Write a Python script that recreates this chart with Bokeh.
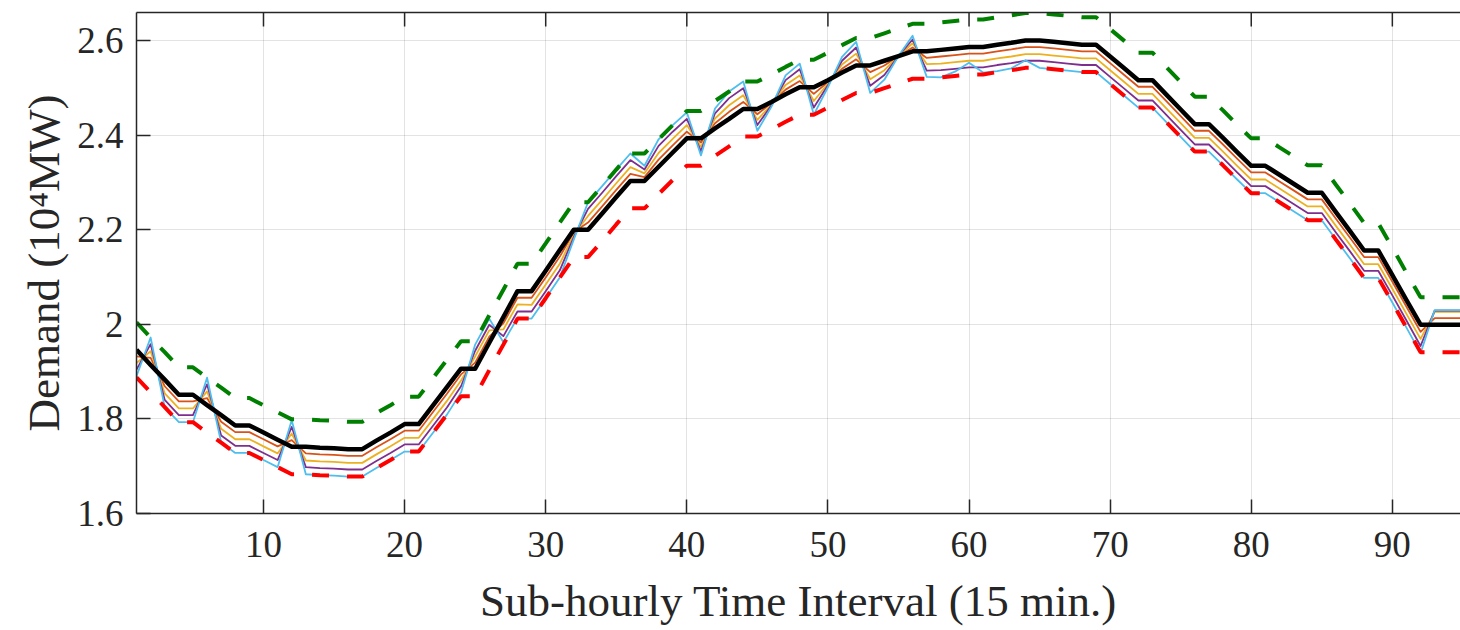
import math
from bokeh.plotting import figure
from bokeh.models import LinearAxis, FixedTicker, CustomJSTickFormatter, Range1d
from bokeh.embed import file_html
from bokeh.resources import INLINE

# ---------------- data ----------------
x = list(range(1, 96))

x_ticks = [10, 20, 30, 40, 50, 60, 70, 80, 90]
y_ticks = [1.6, 1.8, 2.0, 2.2, 2.4, 2.6]
x_lim = (1, 94.83)
y_lim = (1.6, 2.659)

# hourly demand profile (thick black)
demand = [1.946, 1.914, 1.883, 1.851, 1.851, 1.829, 1.808, 1.786, 1.786, 1.771,
          1.756, 1.741, 1.741, 1.739, 1.738, 1.736, 1.736, 1.754, 1.771, 1.789,
          1.789, 1.828, 1.867, 1.906, 1.906, 1.961, 2.015, 2.070, 2.070, 2.113,
          2.157, 2.200, 2.200, 2.234, 2.269, 2.303, 2.303, 2.333, 2.363, 2.393,
          2.393, 2.414, 2.434, 2.455, 2.455, 2.470, 2.486, 2.501, 2.501, 2.516,
          2.532, 2.547, 2.547, 2.557, 2.567, 2.577, 2.577, 2.580, 2.583, 2.586,
          2.586, 2.591, 2.595, 2.600, 2.600, 2.597, 2.594, 2.591, 2.591, 2.566,
          2.541, 2.516, 2.516, 2.485, 2.454, 2.423, 2.423, 2.394, 2.364, 2.335,
          2.335, 2.316, 2.297, 2.278, 2.278, 2.237, 2.197, 2.156, 2.156, 2.104,
          2.051, 1.999, 1.999, 1.999, 1.999]

# upper bound (green dashed)
upper = [2.004, 1.972, 1.941, 1.909, 1.909, 1.887, 1.866, 1.844, 1.844, 1.829,
         1.814, 1.799, 1.799, 1.797, 1.796, 1.794, 1.794, 1.812, 1.829, 1.847,
         1.847, 1.886, 1.925, 1.964, 1.964, 2.019, 2.073, 2.128, 2.128, 2.171,
         2.215, 2.258, 2.258, 2.292, 2.327, 2.361, 2.361, 2.391, 2.421, 2.451,
         2.451, 2.472, 2.492, 2.513, 2.513, 2.528, 2.544, 2.559, 2.559, 2.574,
         2.590, 2.605, 2.605, 2.615, 2.625, 2.635, 2.635, 2.638, 2.641, 2.644,
         2.644, 2.649, 2.653, 2.658, 2.658, 2.655, 2.652, 2.649, 2.649, 2.624,
         2.599, 2.574, 2.574, 2.543, 2.512, 2.481, 2.481, 2.452, 2.422, 2.393,
         2.393, 2.374, 2.355, 2.336, 2.336, 2.295, 2.255, 2.214, 2.214, 2.162,
         2.109, 2.057, 2.057, 2.057, 2.057]

# lower bound (red dashed)
lower = [1.888, 1.856, 1.825, 1.793, 1.793, 1.771, 1.750, 1.728, 1.728, 1.713,
         1.698, 1.683, 1.683, 1.681, 1.680, 1.678, 1.678, 1.696, 1.713, 1.731,
         1.731, 1.770, 1.809, 1.848, 1.848, 1.903, 1.957, 2.012, 2.012, 2.055,
         2.099, 2.142, 2.142, 2.176, 2.211, 2.245, 2.245, 2.275, 2.305, 2.335,
         2.335, 2.356, 2.376, 2.397, 2.397, 2.412, 2.428, 2.443, 2.443, 2.458,
         2.474, 2.489, 2.489, 2.499, 2.509, 2.519, 2.519, 2.522, 2.525, 2.528,
         2.528, 2.533, 2.537, 2.542, 2.542, 2.539, 2.536, 2.533, 2.533, 2.508,
         2.483, 2.458, 2.458, 2.427, 2.396, 2.365, 2.365, 2.336, 2.306, 2.277,
         2.277, 2.258, 2.239, 2.220, 2.220, 2.179, 2.139, 2.098, 2.098, 2.046,
         1.993, 1.941, 1.941, 1.941, 1.941]

# sub-hourly scenarios (thin lines)
scen_orange = [1.932, 1.929, 1.869, 1.837, 1.837, 1.844, 1.794, 1.772, 1.772, 1.757,
               1.742, 1.755, 1.727, 1.725, 1.724, 1.722, 1.722, 1.740, 1.757, 1.775,
               1.775, 1.814, 1.853, 1.894, 1.919, 1.974, 2.002, 2.056, 2.056, 2.099,
               2.143, 2.195, 2.215, 2.249, 2.284, 2.318, 2.311, 2.348, 2.378, 2.407,
               2.384, 2.425, 2.449, 2.470, 2.444, 2.468, 2.496, 2.514, 2.487, 2.512,
               2.540, 2.560, 2.533, 2.547, 2.567, 2.585, 2.563, 2.566, 2.569, 2.572,
               2.572, 2.577, 2.581, 2.586, 2.586, 2.583, 2.580, 2.577, 2.577, 2.552,
               2.527, 2.502, 2.502, 2.471, 2.440, 2.409, 2.409, 2.380, 2.350, 2.321,
               2.321, 2.302, 2.283, 2.264, 2.264, 2.223, 2.183, 2.142, 2.142, 2.090,
               2.037, 1.984, 2.013, 2.013, 2.013]

scen_yellow = [1.918, 1.943, 1.854, 1.822, 1.822, 1.858, 1.779, 1.757, 1.757, 1.742,
               1.727, 1.769, 1.712, 1.710, 1.709, 1.707, 1.707, 1.725, 1.742, 1.760,
               1.760, 1.799, 1.838, 1.881, 1.932, 1.987, 1.989, 2.042, 2.041, 2.084,
               2.128, 2.190, 2.229, 2.263, 2.298, 2.332, 2.319, 2.362, 2.392, 2.421,
               2.375, 2.435, 2.463, 2.484, 2.432, 2.465, 2.506, 2.526, 2.472, 2.509,
               2.549, 2.572, 2.518, 2.537, 2.567, 2.594, 2.550, 2.551, 2.554, 2.557,
               2.557, 2.562, 2.566, 2.571, 2.571, 2.568, 2.565, 2.562, 2.562, 2.537,
               2.512, 2.487, 2.487, 2.456, 2.425, 2.394, 2.394, 2.365, 2.335, 2.306,
               2.306, 2.287, 2.268, 2.249, 2.249, 2.208, 2.168, 2.127, 2.127, 2.075,
               2.022, 1.969, 2.026, 2.026, 2.026]

scen_purple = [1.904, 1.958, 1.840, 1.808, 1.808, 1.873, 1.765, 1.743, 1.743, 1.728,
               1.713, 1.783, 1.698, 1.696, 1.695, 1.693, 1.693, 1.711, 1.728, 1.746,
               1.746, 1.785, 1.824, 1.869, 1.944, 1.999, 1.975, 2.027, 2.027, 2.070,
               2.114, 2.185, 2.244, 2.278, 2.313, 2.347, 2.327, 2.377, 2.407, 2.434,
               2.366, 2.446, 2.478, 2.499, 2.421, 2.463, 2.516, 2.539, 2.458, 2.505,
               2.557, 2.585, 2.504, 2.527, 2.567, 2.602, 2.536, 2.537, 2.540, 2.543,
               2.543, 2.548, 2.552, 2.557, 2.557, 2.554, 2.551, 2.548, 2.548, 2.523,
               2.498, 2.473, 2.473, 2.442, 2.411, 2.380, 2.380, 2.351, 2.321, 2.292,
               2.292, 2.273, 2.254, 2.235, 2.235, 2.194, 2.154, 2.113, 2.113, 2.061,
               2.008, 1.954, 2.029, 2.029, 2.029]

scen_cyan = [1.890, 1.972, 1.825, 1.793, 1.793, 1.887, 1.750, 1.728, 1.728, 1.713,
             1.698, 1.797, 1.683, 1.681, 1.680, 1.678, 1.678, 1.696, 1.713, 1.731,
             1.731, 1.770, 1.809, 1.856, 1.957, 2.012, 1.962, 2.013, 2.012, 2.055,
             2.099, 2.180, 2.258, 2.292, 2.327, 2.361, 2.335, 2.391, 2.421, 2.448,
             2.357, 2.456, 2.492, 2.513, 2.409, 2.460, 2.526, 2.551, 2.443, 2.501,
             2.565, 2.597, 2.489, 2.517, 2.567, 2.610, 2.523, 2.522, 2.534, 2.553,
             2.532, 2.535, 2.541, 2.558, 2.542, 2.539, 2.536, 2.533, 2.533, 2.508,
             2.483, 2.458, 2.458, 2.427, 2.396, 2.365, 2.365, 2.336, 2.306, 2.277,
             2.277, 2.258, 2.239, 2.220, 2.220, 2.179, 2.139, 2.098, 2.098, 2.046,
             1.993, 1.939, 2.030, 2.030, 2.030]

# ---------------- styling ----------------
FONT = "Liberation Serif"
AX = "#262626"
TICK_FS = "37px"
LABEL_FS = "45px"

p = figure(width=1460, height=628, output_backend="svg", toolbar_location=None,
           x_range=Range1d(*x_lim), y_range=Range1d(*y_lim),
           min_border_left=136, min_border_right=0, min_border_top=12,
           min_border_bottom=111,
           x_axis_label="Sub-hourly Time Interval (15 min.)",
           y_axis_label="Demand (10\u2074MW)")
p.outline_line_color = None
p.background_fill_color = "white"
p.border_fill_color = "white"

# grid
for g in (p.xgrid, p.ygrid):
    g.grid_line_color = AX
    g.grid_line_alpha = 0.13
    g.grid_line_width = 1
p.xgrid.ticker = FixedTicker(ticks=x_ticks)
p.ygrid.ticker = FixedTicker(ticks=y_ticks)

# axes
for ax in (p.xaxis[0], p.yaxis[0]):
    ax.axis_line_color = AX
    ax.axis_line_width = 1.5
    ax.major_tick_line_color = AX
    ax.major_tick_line_width = 1.5
    ax.major_tick_in = 14
    ax.major_tick_out = 0
    ax.minor_tick_line_color = None
    ax.major_label_text_font = FONT
    ax.major_label_text_font_size = TICK_FS
    ax.major_label_text_color = AX
    ax.axis_label_text_font = FONT
    ax.axis_label_text_font_size = LABEL_FS
    ax.axis_label_text_font_style = "normal"
    ax.axis_label_text_color = AX

p.xaxis[0].ticker = FixedTicker(ticks=x_ticks)
p.xaxis[0].major_label_standoff = 18
p.xaxis[0].axis_label_standoff = 16
p.yaxis[0].ticker = FixedTicker(ticks=y_ticks)
p.yaxis[0].formatter = CustomJSTickFormatter(code="return String(Number(tick.toFixed(1)));")
p.yaxis[0].major_label_standoff = 13
p.yaxis[0].axis_label_standoff = 5

# top box line (no ticks/labels on the axis itself)
top = LinearAxis(ticker=FixedTicker(ticks=[]),
                 axis_line_color=AX, axis_line_width=1.5,
                 major_tick_line_color=None, minor_tick_line_color=None)
p.add_layout(top, "above")

# inward tick marks along the top edge
p.scatter(x=x_ticks, y=[y_lim[1]] * len(x_ticks), marker="dash", angle=math.pi / 2,
          size=28, line_color=AX, line_width=1.5, fill_color=None)

# thin scenario lines
thin = [(scen_orange, "#D95319"), (scen_yellow, "#EDB120"),
        (scen_purple, "#7E2F8E"), (scen_cyan, "#4DBEEE")]
for ys, c in thin:
    p.line(x, ys, line_color=c, line_width=1.8, line_join="round")

# bounds
p.line(x, lower, line_color="#FF0000", line_width=4, line_dash="17 18")
p.line(x, upper, line_color="#008000", line_width=4, line_dash="17 18")

# demand
p.line(x, demand, line_color="black", line_width=4.5, line_join="round")

open("out.html", "w").write(file_html(p, INLINE))
